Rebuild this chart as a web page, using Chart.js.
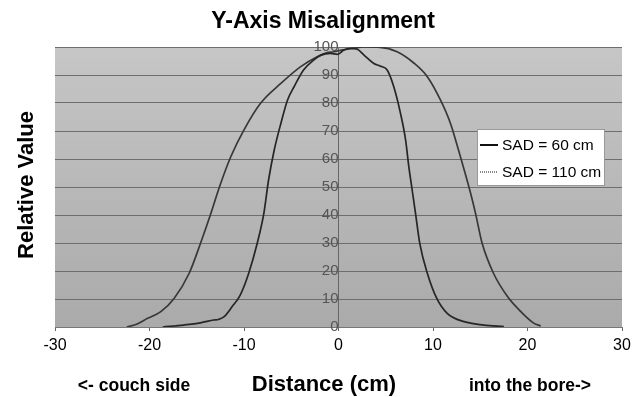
<!DOCTYPE html>
<html>
<head>
<meta charset="utf-8">
<script src="https://cdn.jsdelivr.net/npm/chart.js@4.4.0/dist/chart.umd.min.js"></script>
<style>
  html, body { margin: 0; padding: 0; background: #fff; }
  #wrap { width: 642px; height: 397px; }
</style>
</head>
<body>
<div id="wrap"><canvas id="chart"></canvas></div>
<script>
// texts
const chartTitle = 'Y-Axis Misalignment';
const xTitle = 'Distance (cm)';
const yTitle = 'Relative Value';
const leftNote = '<- couch side';
const rightNote = 'into the bore->';
const seriesLabels = ['SAD = 60 cm', 'SAD = 110 cm'];

// SAD = 60 cm profile
const sad60X = [-18.6, -16.4, -14.6, -13.2, -12.7, -12.1, -11.25, -10.4, -9.5, -8.6, -7.9, -7.4, -6.8, -6.1, -5.4, -4.7, -3.7, -2.6, -1.9, -0.85, -0.1, 0.56, 1.27, 1.98, 2.7, 3.7, 4.4, 5.15, 5.85, 6.56, 7.1, 7.44, 7.75, 8.15, 8.6, 9.4, 10.4, 11.5, 13.3, 15.4, 17.5];
const sad60Y = [0, 0.7, 1.5, 2.5, 2.7, 3.7, 7.3, 11.4, 19.2, 29.9, 40.6, 52.5, 63.2, 72.7, 81, 85.8, 91.8, 95.4, 97, 97.7, 97.4, 98.9, 99.5, 99.2, 97.1, 94.2, 93.2, 91.8, 85.8, 76.3, 66.8, 57.3, 50, 40.6, 29.9, 19.2, 10.2, 4.9, 1.9, 0.7, 0.1];

// SAD = 110 cm profile
const sad110X = [-22.4, -21.3, -20.2, -18.8, -17.4, -15.8, -14.6, -13.5, -12.6, -11.4, -10.0, -8.25, -6.1, -4.0, -2.25, -1.2, -0.5, 0.5, 1.5, 2.7, 4.4, 6.2, 8.0, 9.4, 10.8, 11.85, 12.7, 13.4, 14.0, 14.5, 15.2, 16.4, 17.9, 19.3, 20.7, 21.4];
const sad110Y = [0, 1.1, 3.1, 5.5, 10.2, 19.2, 29.9, 40.6, 50, 60.8, 70.4, 79.9, 87, 93, 96.5, 98, 98.3, 99, 99.5, 100, 99.9, 98.3, 94.2, 89.4, 81, 72.7, 63.2, 54.9, 47.5, 40.6, 29.9, 19.2, 10.8, 5.5, 1.3, 0.4];

// axes
const xMin = -30, xMax = 30, xStep = 10;
const yMin = 0, yMax = 100, yStep = 10;

const FONT = '"Liberation Sans", Arial, sans-serif';
const toPoints = (xs, ys) => xs.map((x, i) => ({ x: x, y: ys[i] }));

const decor = {
    id: 'decor',
    beforeDraw(chart) {
        const { ctx, chartArea: a } = chart;
        const g = ctx.createLinearGradient(0, a.top, 0, a.bottom);
        g.addColorStop(0, '#c6c6c6');
        g.addColorStop(1, '#aaaaaa');
        ctx.save();
        ctx.fillStyle = g;
        ctx.fillRect(a.left, a.top, a.right - a.left, a.bottom - a.top);
        ctx.restore();
    },
    afterDraw(chart) {
        const { ctx } = chart;
        ctx.save();
        ctx.fillStyle = '#000';
        ctx.textAlign = 'center';
        ctx.textBaseline = 'alphabetic';

        // title
        ctx.font = 'bold 23px ' + FONT;
        ctx.fillText(chartTitle, 323, 28);

        // y title
        ctx.save();
        ctx.translate(33, 185);
        ctx.rotate(-Math.PI / 2);
        ctx.font = 'bold 22px ' + FONT;
        ctx.fillText(yTitle, 0, 0);
        ctx.restore();

        // x title and notes
        ctx.font = 'bold 22px ' + FONT;
        ctx.fillText(xTitle, 324, 391);
        ctx.font = 'bold 17.5px ' + FONT;
        ctx.fillText(leftNote, 134, 391);
        ctx.fillText(rightNote, 530, 391);

        // legend box inside plot
        const bx = 477, by = 129, bw = 127, bh = 56;
        ctx.fillStyle = '#fff';
        ctx.fillRect(bx, by, bw, bh);
        ctx.strokeStyle = '#999';
        ctx.lineWidth = 1;
        ctx.strokeRect(bx + 0.5, by + 0.5, bw, bh);
        ctx.font = '15.5px ' + FONT;
        ctx.textAlign = 'left';
        ctx.textBaseline = 'middle';
        chart.data.datasets.forEach((ds, i) => {
            const ly = by + 16 + i * 27;
            ctx.strokeStyle = i === 0 ? '#111' : '#888';
            ctx.lineWidth = 2;
            ctx.setLineDash(i === 0 ? [] : [1, 1]);
            ctx.beginPath();
            ctx.moveTo(bx + 3, ly);
            ctx.lineTo(bx + 21, ly);
            ctx.stroke();
            ctx.setLineDash([]);
            ctx.fillStyle = '#000';
            ctx.fillText(ds.label, bx + 25, ly + 1);
        });
        ctx.restore();
    }
};

new Chart(document.getElementById('chart'), {
    type: 'line',
    data: {
        datasets: [
            {
                label: seriesLabels[0],
                data: toPoints(sad60X, sad60Y),
                borderColor: '#262626',
                borderWidth: 1.7,
                pointRadius: 0,
                cubicInterpolationMode: 'monotone',
                fill: false
            },
            {
                label: seriesLabels[1],
                data: toPoints(sad110X, sad110Y),
                borderColor: '#383838',
                borderWidth: 1.7,
                pointRadius: 0,
                cubicInterpolationMode: 'monotone',
                fill: false
            }
        ]
    },
    options: {
        responsive: true,
        maintainAspectRatio: false,
        animation: false,
        layout: { padding: { left: 55, right: 20, top: 47, bottom: 0 } },
        plugins: {
            legend: { display: false },
            title: { display: false },
            tooltip: { enabled: false }
        },
        scales: {
            x: {
                type: 'linear',
                min: xMin,
                max: xMax,
                ticks: {
                    stepSize: xStep,
                    color: '#000',
                    font: { family: FONT, size: 16 },
                    padding: 5
                },
                grid: { drawOnChartArea: false, drawTicks: true, tickLength: 4, color: '#666' },
                border: { color: '#777' },
                afterFit(scale) { scale.height = 70; }
            },
            y: {
                position: { x: 0 },
                min: yMin,
                max: yMax,
                ticks: {
                    stepSize: yStep,
                    color: '#555',
                    font: { family: FONT, size: 15 },
                    padding: 8
                },
                grid: { color: '#6e6e6e', lineWidth: 1, drawTicks: false },
                border: { color: '#666' }
            }
        }
    },
    plugins: [decor]
});
</script>
</body>
</html>
